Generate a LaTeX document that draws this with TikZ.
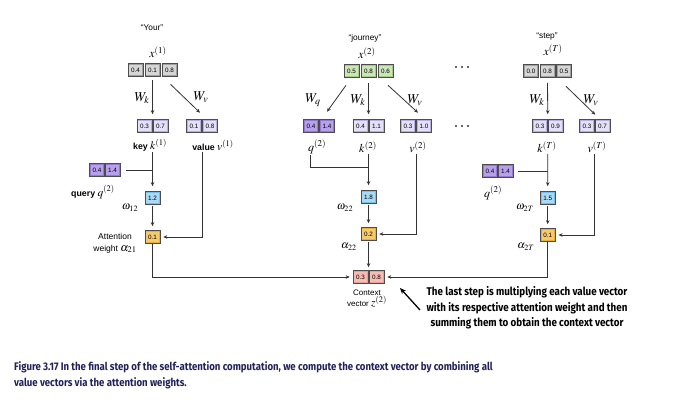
\documentclass[tikz,border=0pt]{standalone}
\usepackage{mathptmx}
\usepackage{fontspec}
\setsansfont{Liberation Sans}
\newfontfamily\capfont{Fira Sans}[FakeStretch=0.875]
\usetikzlibrary{arrows.meta,calc}
\definecolor{linec}{HTML}{333333}
\definecolor{cellb}{HTML}{4D4D4D}
\definecolor{grayo}{HTML}{A0A0A0}
\definecolor{grayi}{HTML}{D6D6D6}
\definecolor{greeno}{HTML}{A3CC88}
\definecolor{greeni}{HTML}{CBE6B7}
\definecolor{lavo}{HTML}{B7AEE2}
\definecolor{lavi}{HTML}{E4E0F8}
\definecolor{purpo}{HTML}{9478D3}
\definecolor{purpi}{HTML}{B7A0EC}
\definecolor{blueo}{HTML}{78C0EA}
\definecolor{bluei}{HTML}{A6DAF6}
\definecolor{orao}{HTML}{E9AE3C}
\definecolor{orai}{HTML}{F6CA6C}
\definecolor{pinko}{HTML}{EC9D94}
\definecolor{pinki}{HTML}{F6BCB4}
\definecolor{navy}{HTML}{22225A}
\newcommand{\lblmath}[1]{{\fontsize{11.5}{12}\selectfont$#1$}}
\begin{document}
\begin{tikzpicture}[x=1pt,y=-1pt,
  cellc/.style 2 args={minimum width=15pt, minimum height=13pt, inner sep=0pt,
    draw=cellb, line width=0.6pt, fill=#1,
    font=\sffamily\fontsize{6.3}{7}\selectfont,
    path picture={\fill[#2] ($(path picture bounding box.south west)+(1.4pt,1.4pt)$)
      rectangle ($(path picture bounding box.north east)+(-1.4pt,-1.4pt)$);}},
  gcell/.style={cellc={grayo}{grayi}},
  ncell/.style={cellc={greeno}{greeni}},
  lcell/.style={cellc={lavo}{lavi}},
  qcell/.style={cellc={purpo}{purpi}},
  bcell/.style={cellc={blueo}{bluei}},
  ocell/.style={cellc={orao}{orai}},
  pcell/.style={cellc={pinko}{pinki}},
  word/.style={inner sep=0pt, font=\sffamily\fontsize{8.3}{9}\selectfont},
  mathl/.style={inner sep=0pt, font=\fontsize{12}{13}\selectfont},
  wl/.style={inner sep=0pt, font=\fontsize{13.5}{14}\selectfont},
  sl/.style={inner sep=0pt, font=\fontsize{11}{12}\selectfont},
  txt/.style={inner sep=0pt, font=\sffamily\fontsize{8.8}{10}\selectfont},
  smalltxt/.style={inner sep=0pt, font=\sffamily\fontsize{8.5}{12}\selectfont, align=center},
  notetxt/.style={inner sep=0pt, font=\capfont\bfseries\fontsize{11.2}{15.5}\selectfont, align=center},
  captxt/.style={inner sep=0pt, text=navy, font=\capfont\bfseries\fontsize{11}{12}\selectfont},
  ln/.style={line width=0.8pt, draw=linec},
  arr/.style={ln, -{Stealth[length=4pt,width=3.5pt]}},
  bigarr/.style={line width=1.3pt, draw=black, -{Stealth[length=6pt,width=5pt]}}
]
\useasboundingbox[fill=white] (0,0) rectangle (700,402);

% ---------------- column 1 ----------------
\node[word] (w1) at (152,28) {``Your''};
\node[mathl] (x1lab) at (158,52) {$x^{(1)}$};
\node[gcell] (x1a) at (135.5,70) {0.4};
\node[gcell] (x1b) at (152.5,70) {0.1};
\node[gcell] (x1c) at (169.5,70) {0.8};
\node[lcell] (k1a) at (144.5,126) {0.3};
\node[lcell] (k1b) at (160.5,126) {0.7};
\node[lcell] (v1a) at (194,126) {0.1};
\node[lcell] (v1b) at (210,126) {0.8};
\coordinate (k1m) at ($(k1a.north)!0.5!(k1b.north)$);
\coordinate (v1m) at ($(v1a.north)!0.5!(v1b.north)$);
\node[wl] (wk1) at (142,98) {$W_k$};
\node[wl] (wv1) at (201,97) {$W_v$};
\node[txt] (k1lab) at (150,145) {\textbf{key} \lblmath{k^{(1)}}};
\node[txt] (v1lab) at (213,145) {\textbf{value} \lblmath{v^{(1)}}};
\node[qcell] (q1a) at (97,170) {0.4};
\node[qcell] (q1b) at (112.5,170) {1.4};
\node[txt] (q1lab) at (93,192) {\textbf{query} \lblmath{q^{(2)}}};
\node[bcell] (o1) at (152.5,198) {1.2};
\node[ocell] (a1) at (152.5,237) {0.1};
\node[sl] (o1lab) at (130,208) {$\omega_{12}$};
\node[smalltxt] (a1lab) at (115,243) {Attention\\weight \lblmath{\alpha_{21}}};

% ---------------- column 2 ----------------
\node[word] (w2) at (365,38) {``journey''};
\node[mathl] (x2lab) at (367,53) {$x^{(2)}$};
\node[ncell] (x2a) at (351.5,71) {0.5};
\node[ncell] (x2b) at (368.5,71) {0.8};
\node[ncell] (x2c) at (385.5,71) {0.6};
\node[qcell] (q2a) at (311,126) {0.4};
\node[qcell] (q2b) at (327,126) {1.4};
\node[lcell] (k2a) at (360.5,126) {0.4};
\node[lcell] (k2b) at (376.5,126) {1.1};
\node[lcell] (v2a) at (408,126) {0.3};
\node[lcell] (v2b) at (424,126) {1.0};
\coordinate (q2x) at ($(q2a.north)+(-1,0)$);
\coordinate (k2m) at ($(k2a.north)!0.5!(k2b.north)$);
\coordinate (v2m) at ($(v2a.north)!0.5!(v2b.north)$);
\node[wl] (wq2) at (313,100) {$W_q$};
\node[wl] (wk2) at (358,100) {$W_k$};
\node[wl] (wv2) at (415,100) {$W_v$};
\node[mathl] (q2lab) at (317,147) {$q^{(2)}$};
\node[mathl] (k2lab) at (368,147) {$k^{(2)}$};
\node[mathl] (v2lab) at (418,147) {$v^{(2)}$};
\node[bcell] (o2) at (368.5,197) {1.8};
\node[ocell] (a2) at (368.5,234) {0.2};
\node[sl] (o2lab) at (345,208) {$\omega_{22}$};
\node[sl] (a2lab) at (349,247) {$\alpha_{22}$};
\node[pcell] (ca) at (360.5,277) {0.3};
\node[pcell] (cb) at (376.5,277) {0.8};
\node[smalltxt, font=\sffamily\fontsize{8}{11.5}\selectfont] (clab) at (367,298.5) {Context\\vector \lblmath{z^{(2)}}};

% ---------------- dots ----------------
\foreach \yy in {67,126}{
  \foreach \xx in {456,462,468}{\fill[black!80] (\xx,\yy) circle (1.1pt);}
}

% ---------------- column 3 ----------------
\node[word] (w3) at (547,37) {``step''};
\node[mathl] (x3lab) at (553,50) {$x^{(T)}$};
\node[gcell] (x3a) at (531,71) {0.0};
\node[gcell] (x3b) at (547.5,71) {0.8};
\node[gcell] (x3c) at (564,71) {0.5};
\node[lcell] (k3a) at (540,126) {0.3};
\node[lcell] (k3b) at (555.5,126) {0.9};
\node[lcell] (v3a) at (587,126) {0.3};
\node[lcell] (v3b) at (602.5,126) {0.7};
\coordinate (k3m) at ($(k3a.north)!0.5!(k3b.north)$);
\coordinate (v3m) at ($(v3a.north)!0.5!(v3b.north)$);
\node[wl] (wk3) at (537,100) {$W_k$};
\node[wl] (wv3) at (591,100) {$W_v$};
\node[mathl] (k3lab) at (547,147) {$k^{(T)}$};
\node[mathl] (v3lab) at (597,147) {$v^{(T)}$};
\node[qcell] (q3a) at (490,171) {0.4};
\node[qcell] (q3b) at (505.5,171) {1.4};
\node[mathl] (q3lab) at (493,193) {$q^{(2)}$};
\node[bcell] (o3) at (547.7,198) {1.5};
\node[ocell] (a3) at (547.7,235) {0.1};
\node[sl] (o3lab) at (525,208) {$\omega_{2T}$};
\node[sl] (a3lab) at (526,247) {$\alpha_{2T}$};

% ---------------- annotation & caption ----------------
\node[notetxt] (note) at (527,308) {The last step is multiplying each value vector\\with its respective attention weight and then\\summing them to obtain the context vector};
\coordinate (pstart) at (420,310);
\coordinate (pend) at (400,288);
\node[captxt, anchor=base west] (cap1) at (14,370) {Figure 3.17 In the final step of the self-attention computation, we compute the context vector by combining all};
\node[captxt, anchor=base west] (cap2) at (14,386) {value vectors via the attention weights.};

% ---------------- connectors ----------------
% column 1
\draw[arr, shorten <=3pt, shorten >=5pt] (x1b.south) -- (k1m);
\draw[arr] ($(x1c.south)+(1,7.5)$) -- ($(v1m)+(-2,-6.5)$);
\draw[arr, shorten <=1pt, shorten >=5pt] (k1m |- k1lab.south) -- (o1.north);
\draw[ln] ($(q1b.east)+(6,0)$) -- (q1b.east -| o1.north);
\draw[arr, shorten <=1pt, shorten >=4pt] (o1.south) -- (a1.north);
\draw[arr, shorten <=1pt, shorten >=3pt] (v1m |- v1lab.south) |- (a1.east);
\draw[arr, shorten >=3pt] (a1.south) |- (ca.west);
% column 2
\draw[arr] ($(x2a.south)+(-5.5,7.5)$) -- ($(q2b.north)+(0,-7.5)$);
\draw[arr, shorten <=5pt, shorten >=5pt] (x2b.south) -- (k2m);
\draw[arr] ($(x2c.south)+(2.5,7.5)$) -- ($(v2m)+(2,-6.5)$);
\draw[ln, shorten <=1pt] (q2x |- q2lab.south) |- ($(k2m |- o2.north)+(0,-23)$);
\draw[arr, shorten <=1pt, shorten >=5pt] (k2m |- k2lab.south) -- (o2.north);
\draw[arr, shorten <=1pt, shorten >=4pt] (o2.south) -- (a2.north);
\draw[arr, shorten <=1pt, shorten >=3pt] (v2m |- v2lab.south) |- (a2.east);
\draw[arr, shorten <=1pt, shorten >=3pt] (a2.south) -- ($(ca.north)!0.5!(cb.north)$);
% column 3
\draw[arr, shorten <=5pt, shorten >=5pt] (x3b.south) -- (k3m);
\draw[arr] ($(x3c.south)+(2,8.5)$) -- ($(v3m)+(0.5,-4.5)$);
\draw[arr, shorten <=1pt, shorten >=5pt] (k3m |- k3lab.south) -- (o3.north);
\draw[ln] ($(q3b.east)+(5,0)$) -- (q3b.east -| o3.north);
\draw[arr, shorten <=1pt, shorten >=4pt] (o3.south) -- (a3.north);
\draw[arr, shorten <=1pt, shorten >=3pt] (v3m |- v3lab.south) |- (a3.east);
\draw[arr, shorten >=3pt] (a3.south) |- (cb.east);
% pointer
\draw[bigarr] (pstart) -- (pend);
\end{tikzpicture}
\end{document}
